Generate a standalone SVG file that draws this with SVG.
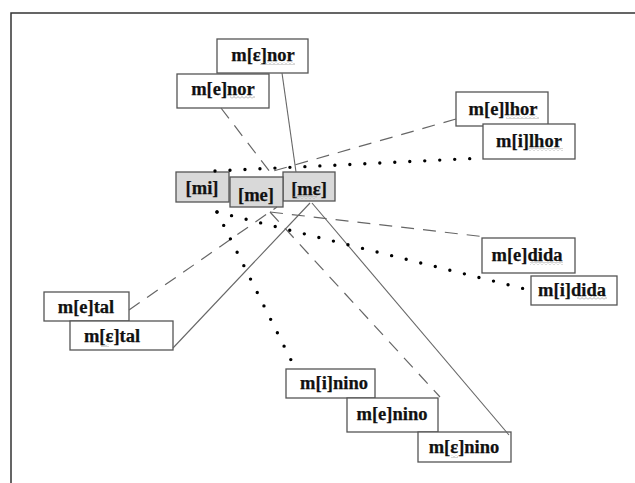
<svg xmlns="http://www.w3.org/2000/svg" width="635" height="483" viewBox="0 0 635 483">
<style>
.box{fill:#fff;stroke:#555;stroke-width:1.3}
.core{fill:#d9d9d9;stroke:#555;stroke-width:1.3}
.t{font-family:'Liberation Serif','Times New Roman',serif;font-weight:bold;font-size:18.5px;fill:#111;stroke:#111;stroke-width:0.25;text-anchor:middle}
.solid{stroke:#666;stroke-width:1.1;fill:none}
.dash{stroke:#666;stroke-width:1.2;fill:none;stroke-dasharray:13 9}
.dot{stroke:#000;stroke-width:3.4;fill:none;stroke-dasharray:0 15;stroke-linecap:round}
.sq{fill:url(#wave)}
</style>
<defs>
<pattern id="wave" width="4" height="3" patternUnits="userSpaceOnUse">
<path d="M0,2.5 L2,0.5 L4,2.5" stroke="#999" stroke-width="0.8" fill="none"/>
</pattern>
</defs>
<rect width="635" height="483" fill="#fff"/>
<path d="M11,483 V13 H635" fill="none" stroke="#333" stroke-width="1.5"/>

<g id="n-menor-open"><rect class="box" x="217" y="39" width="91" height="34"/><text class="t" x="263" y="61">m[ε]nor</text><rect class="sq" x="260" y="62" width="35" height="3"/></g>
<g id="n-menor-close"><rect class="box" x="177" y="74" width="92" height="34"/><text class="t" x="223" y="95">m[e]nor</text><rect class="sq" x="230" y="96" width="25" height="3"/></g>
<g id="n-melhor"><rect class="box" x="456" y="92" width="92" height="34"/><text class="t" x="503" y="115">m[e]lhor</text><rect class="sq" x="506" y="116" width="33" height="3"/></g>
<g id="n-milhor"><rect class="box" x="483" y="124" width="92" height="35"/><text class="t" x="529" y="147">m[i]lhor</text><rect class="sq" x="528" y="148" width="35" height="3"/></g>
<g id="n-mi"><rect class="core" x="176" y="172" width="53" height="30"/><text class="t" x="202" y="194">[mi]</text></g>
<g id="n-mE"><rect class="core" x="283" y="172" width="52" height="29"/><text class="t" x="309" y="195">[mε]</text><rect class="sq" x="293" y="196" width="24" height="3"/></g>
<g id="n-me"><rect class="core" x="230" y="177" width="53" height="30"/><text class="t" x="256" y="201">[me]</text></g>
<g id="n-medida"><rect class="box" x="482" y="238" width="93" height="35"/><text class="t" x="527" y="261">m[e]dida</text><rect class="sq" x="530" y="262" width="33" height="3"/></g>
<g id="n-midida"><rect class="box" x="531" y="276" width="86" height="29"/><text class="t" x="572" y="296">m[i]dida</text><rect class="sq" x="577" y="297" width="30" height="3"/></g>
<g id="n-metal"><rect class="box" x="44" y="292" width="85" height="29"/><text class="t" x="86" y="313">m[e]tal</text></g>
<g id="n-mEtal"><rect class="box" x="70" y="321" width="103" height="29"/><text class="t" x="112" y="342">m[ε]tal</text><rect class="sq" x="101" y="344" width="8" height="3"/></g>
<g id="n-minino"><rect class="box" x="286" y="369" width="89" height="29"/><text class="t" x="334" y="389">m[i]nino</text></g>
<g id="n-menino"><rect class="box" x="347" y="398" width="91" height="34"/><text class="t" x="392" y="420">m[e]nino</text></g>
<g id="n-mEnino"><rect class="box" x="418" y="432" width="93" height="30"/><text class="t" x="464" y="453">m[ε]nino</text><rect class="sq" x="451" y="455" width="7" height="3"/></g>

<g id="connectors">
<line class="solid" x1="282" y1="73" x2="296" y2="172"/>
<line class="solid" x1="173" y1="348" x2="310" y2="203"/>
<line class="solid" x1="312" y1="203" x2="509" y2="435"/>
<line class="dash" x1="221" y1="108" x2="270" y2="172"/>
<line class="dash" x1="456" y1="119" x2="270" y2="172"/>
<line class="dash" x1="129" y1="310" x2="277" y2="207"/>
<line class="dash" x1="270" y1="212" x2="486" y2="237"/>
<line class="dash" x1="270" y1="212" x2="440" y2="397"/>
<line class="dot" x1="215" y1="171" x2="483" y2="158"/>
<line class="dot" x1="217" y1="212" x2="533" y2="291"/>
<line class="dot" x1="217" y1="212" x2="296" y2="370"/>
</g>
</svg>
